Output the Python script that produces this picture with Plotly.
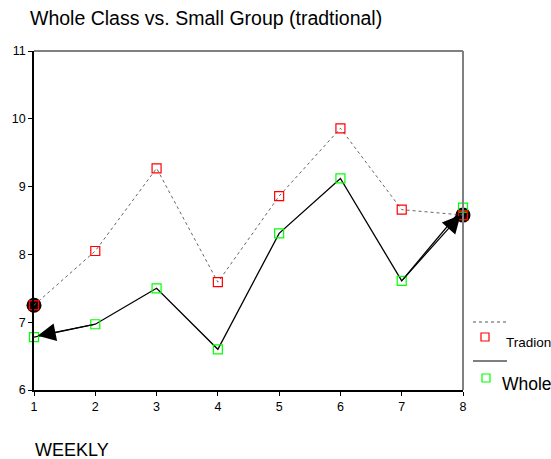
import plotly.graph_objects as go

weeks = [1, 2, 3, 4, 5, 6, 7, 8]
traditional = [7.25, 8.05, 9.27, 7.59, 8.86, 9.86, 8.66, 8.58]
whole_class = [6.78, 6.97, 7.50, 6.60, 8.31, 9.12, 7.61, 8.69]
y_ticks = [6, 7, 8, 9, 10, 11]

FONT = "Liberation Sans, Arial, sans-serif"

fig = go.Figure()

# highlight circles
fig.add_trace(go.Scatter(
    x=[weeks[0], weeks[-1]], y=[traditional[0], traditional[-1]],
    mode="markers", marker=dict(symbol="circle", size=15, color="black"),
    cliponaxis=False, showlegend=False, hoverinfo="skip"))

fig.add_trace(go.Scatter(
    x=weeks, y=traditional, mode="lines+markers", name="Tradional",
    line=dict(color="#666666", width=1, dash="dot"),
    marker=dict(symbol="square-open", size=9, color="#ff0000", line=dict(width=1.2)),
    cliponaxis=False, showlegend=False))

fig.add_trace(go.Scatter(
    x=weeks, y=whole_class, mode="lines+markers", name="Whole",
    line=dict(color="black", width=1.3),
    marker=dict(symbol="square-open", size=9, color="#00ff00", line=dict(width=1.2)),
    cliponaxis=False, showlegend=False))

# red markers on top
fig.add_trace(go.Scatter(
    x=[weeks[0], weeks[-1]], y=[traditional[0], traditional[-1]], mode="markers",
    marker=dict(symbol="square-open", size=9, color="#ff0000", line=dict(width=1.2)),
    cliponaxis=False, showlegend=False, hoverinfo="skip"))

# arrows
fig.add_annotation(x=1.06, y=6.80, ax=weeks[1], ay=whole_class[1], xref="x", yref="y",
                   axref="x", ayref="y", text="", showarrow=True, arrowhead=2,
                   arrowsize=3, arrowwidth=1.2, arrowcolor="black")
fig.add_annotation(x=7.96, y=8.58, ax=weeks[6], ay=whole_class[6], xref="x", yref="y",
                   axref="x", ayref="y", text="", showarrow=True, arrowhead=2,
                   arrowsize=3, arrowwidth=1.2, arrowcolor="black")

W, H = 551, 459
L, R, T, B = 34, 88, 51, 69
pw, ph = W - L - R, H - T - B

def px(x):
    return (x - L) / pw

def py(y):
    return (H - B - y) / ph

shapes = [
    dict(type="line", xref="paper", yref="paper", x0=0, x1=1, y0=1, y1=1,
         line=dict(color="#808080", width=2)),
    dict(type="line", xref="paper", yref="paper", x0=1, x1=1, y0=0, y1=1,
         line=dict(color="#808080", width=2)),
    # legend line samples
    dict(type="line", xref="paper", yref="paper", x0=px(473), x1=px(507), y0=py(322), y1=py(322),
         line=dict(color="#555555", width=1, dash="dot")),
    dict(type="line", xref="paper", yref="paper", x0=px(473), x1=px(507), y0=py(361), y1=py(361),
         line=dict(color="#555555", width=1.5)),
    # legend marker squares
    dict(type="rect", xref="paper", yref="paper", x0=px(481), x1=px(489), y0=py(333), y1=py(341),
         line=dict(color="#ff0000", width=1.2)),
    dict(type="rect", xref="paper", yref="paper", x0=px(482), x1=px(490), y0=py(374), y1=py(382),
         line=dict(color="#00ff00", width=1.2)),
]

fig.add_annotation(x=px(504), y=py(342), xref="paper", yref="paper", text="Tradional",
                   showarrow=False, xanchor="left", yanchor="middle",
                   font=dict(family=FONT, size=13.5, color="black"))
fig.add_annotation(x=px(500), y=py(384), xref="paper", yref="paper", text="Whole Class",
                   showarrow=False, xanchor="left", yanchor="middle",
                   font=dict(family=FONT, size=17.5, color="black"))
fig.add_annotation(x=px(33), y=py(450), xref="paper", yref="paper", text="WEEKLY",
                   showarrow=False, xanchor="left", yanchor="middle",
                   font=dict(family=FONT, size=18, color="black"))

fig.update_layout(
    width=W, height=H,
    margin=dict(l=L, r=R, t=T, b=B),
    paper_bgcolor="white", plot_bgcolor="white",
    title=dict(text="Whole Class vs. Small Group (tradtional)", x=30 / W, xanchor="left",
               y=1 - 18 / H, yanchor="middle",
               font=dict(family=FONT, size=19.5, color="black")),
    font=dict(family=FONT, color="black"),
    shapes=shapes,
    xaxis=dict(range=[1, 8], tickvals=weeks, ticks="outside", ticklen=4, tickcolor="black",
               showline=True, linecolor="black", linewidth=1.5, showgrid=False, zeroline=False,
               tickfont=dict(size=12.5, color="black")),
    yaxis=dict(range=[6, 11], tickvals=y_ticks, ticks="outside", ticklen=4, tickcolor="black",
               showline=True, linecolor="black", linewidth=1.5, showgrid=False, zeroline=False,
               tickfont=dict(size=12.5, color="black")),
)

fig.write_html("out.html", config={"displayModeBar": False},
               post_script="document.body.style.margin='0';document.body.style.overflow='hidden';")
